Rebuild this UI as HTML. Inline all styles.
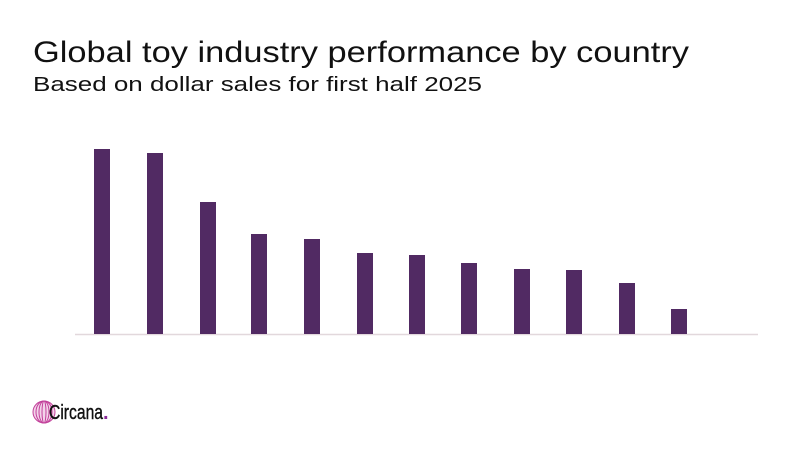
<!DOCTYPE html>
<html><head><meta charset="utf-8"><style>
html,body{margin:0;padding:0;background:#fff;}
svg{display:block;}
</style></head><body>
<svg width="800" height="450" viewBox="0 0 800 450" xmlns="http://www.w3.org/2000/svg">
<rect width="800" height="450" fill="#fff"/>
<text x="33" y="62" font-family="Liberation Sans, sans-serif" font-size="30" fill="#111" textLength="656" lengthAdjust="spacingAndGlyphs">Global toy industry performance by country</text>
<text x="33" y="91" font-family="Liberation Sans, sans-serif" font-size="20" fill="#111" textLength="449" lengthAdjust="spacingAndGlyphs">Based on dollar sales for first half 2025</text>
<line x1="75" y1="334.5" x2="758" y2="334.5" stroke="#e2d8dc" stroke-width="1.5"/>
<g fill="#512a63">
<rect x="94" y="149" width="16" height="185"/>
<rect x="147" y="153" width="16" height="181"/>
<rect x="200" y="202" width="16" height="132"/>
<rect x="251" y="234" width="16" height="100"/>
<rect x="304" y="239" width="16" height="95"/>
<rect x="357" y="253" width="16" height="81"/>
<rect x="409" y="255" width="16" height="79"/>
<rect x="461" y="263" width="16" height="71"/>
<rect x="514" y="269" width="16" height="65"/>
<rect x="566" y="270" width="16" height="64"/>
<rect x="619" y="283" width="16" height="51"/>
<rect x="671" y="309" width="16" height="25"/>
</g>
<g fill="none" stroke="#c2409a" stroke-width="1">
<circle cx="44" cy="412" r="11" fill="#f3d3ea"/>
<ellipse cx="44" cy="412" rx="8" ry="11"/>
<ellipse cx="44" cy="412" rx="5" ry="11"/>
<ellipse cx="44" cy="412" rx="2" ry="11"/>
</g>
<text x="49" y="419" font-family="Liberation Sans, sans-serif" font-size="20" fill="#111" stroke="#111" stroke-width="0.4" textLength="54" lengthAdjust="spacingAndGlyphs">Circana</text>
<text x="103" y="419" font-family="Liberation Sans, sans-serif" font-size="20" font-weight="bold" fill="#8a2a9a">.</text>
</svg>
</body></html>
